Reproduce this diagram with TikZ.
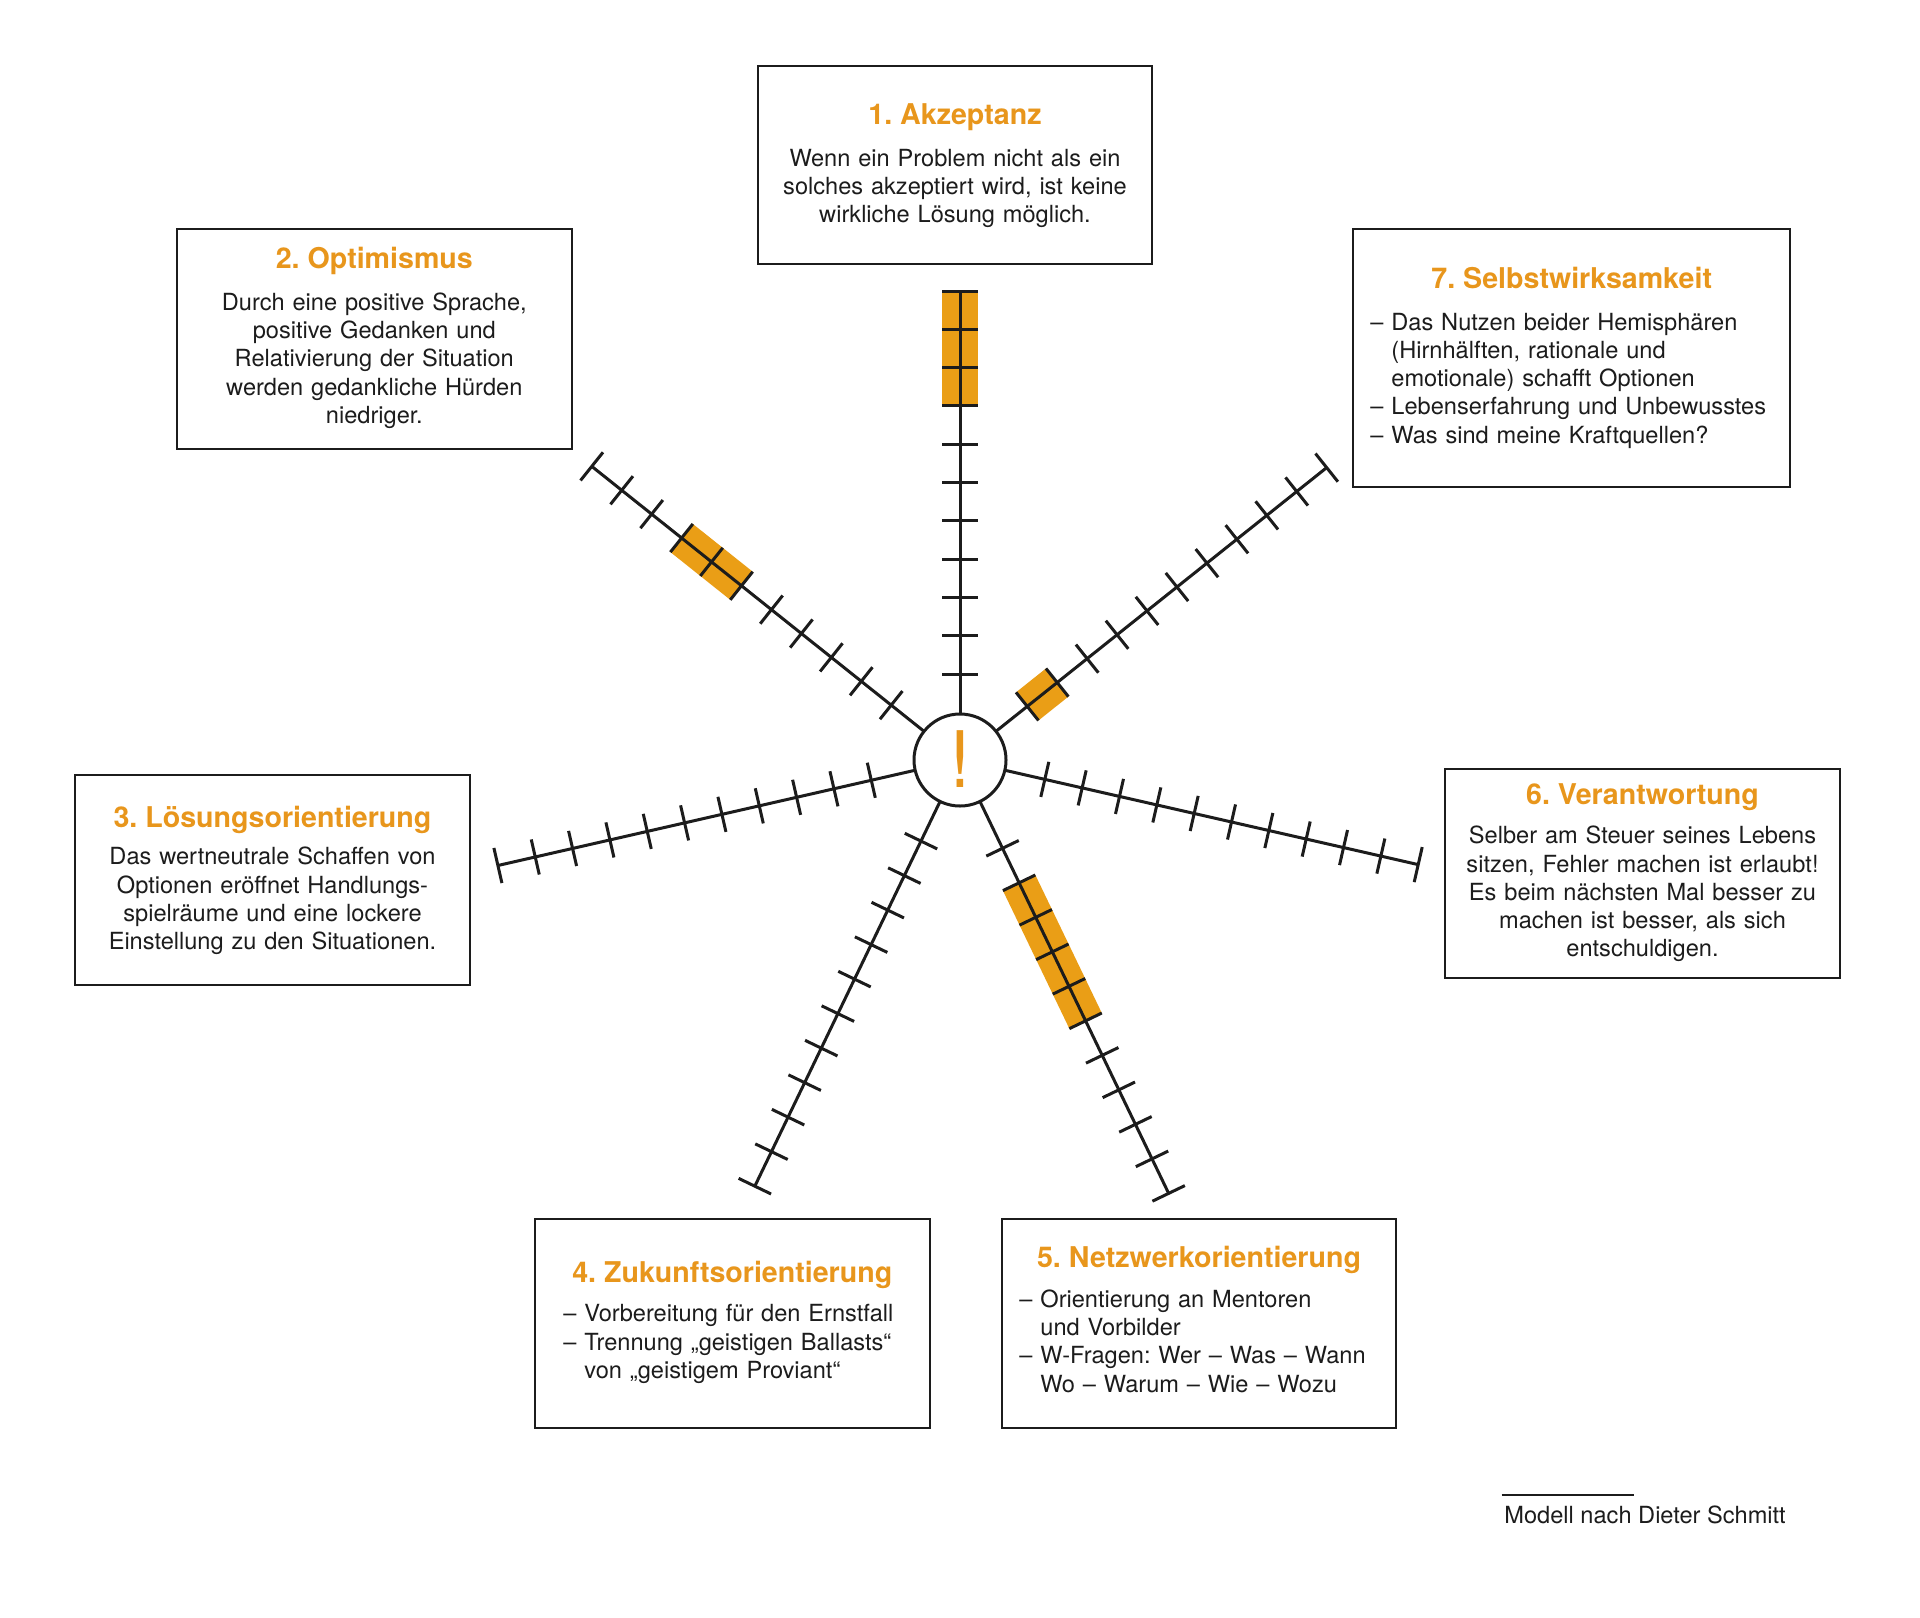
\documentclass[tikz,border=0pt]{standalone}
\usepackage{fontspec}
\setmainfont{TeX Gyre Heros}
\usetikzlibrary{calc}
\frenchspacing
\definecolor{ortext}{RGB}{232,150,28}
\definecolor{orfill}{RGB}{234,158,22}
\definecolor{ink}{RGB}{28,28,28}
\newcommand\drawspoke[2]{%
  \begin{scope}[shift={(hub.center)}, rotate=#1]
    \draw[spk] (46,0) -- (#2,0);
    \foreach \k in {0,...,10} \draw[spk] ({#2-38.3*\k},-18) -- ({#2-38.3*\k},18);
  \end{scope}}
\newcommand\orangeseg[3]{%
  \begin{scope}[shift={(hub.center)}, rotate=#1]
    \fill[orfill] (#2,-18) rectangle (#3,18);
  \end{scope}}
\begin{document}
\frenchspacing
\begin{tikzpicture}[x=0.5pt,y=-0.5pt,
  boxframe/.style={draw=ink, line width=1pt, inner sep=0pt, outer sep=0pt, anchor=north west},
  ttl/.style={anchor=base, inner sep=0pt, text=ortext, font=\fontsize{14.3pt}{17pt}\selectfont\bfseries\frenchspacing},
  bodyc/.style={anchor=base, inner sep=0pt, text=ink, text width=195pt, align=center, font=\fontsize{11.8pt}{14.15pt}\selectfont\frenchspacing},
  bodyl/.style={anchor=base west, inner sep=0pt, text=ink, text width=215pt, align=left, font=\fontsize{11.8pt}{14.15pt}\selectfont\frenchspacing},
  spk/.style={line width=1.5pt, draw=ink},
]
\fill[white] (0,0) rectangle (1920,1617);
\useasboundingbox (0,0) rectangle (1920,1617);

% hub
\node[circle, draw=ink, line width=1.5pt, minimum size=46pt, inner sep=0pt] (hub) at (960,760) {};
\node[anchor=base, text=ortext, font=\fontsize{39pt}{39pt}\selectfont, inner sep=0pt] (bang) at (960,787) {!};

% orange segments (behind spokes)
\orangeseg{90}{354.1}{469}
\orangeseg{141.43}{279.5}{356.1}
\orangeseg{38.57}{86}{124.3}
\orangeseg{-64.29}{136.3}{289.5}

% spokes
\drawspoke{90}{469}
\drawspoke{141.43}{471}
\drawspoke{192.86}{474}
\drawspoke{244.29}{473}
\drawspoke{295.71}{481}
\drawspoke{347.14}{470}
\drawspoke{38.57}{469}

% box 1
\node[boxframe, minimum width=197.25pt, minimum height=98.75pt] (b1) at (757.5,66) {};
\node[ttl] (t1) at (955,124) {1. Akzeptanz};
\node[bodyc] (d1) at (955,166) {Wenn ein Problem nicht als ein\\solches akzeptiert wird, ist keine\\wirkliche Lösung möglich.};

% box 2
\node[boxframe, minimum width=197.25pt, minimum height=110pt] (b2) at (177,229) {};
\node[ttl] (t2) at (374.3,268.7) {2. Optimismus};
\node[bodyc] (d2) at (374.3,310.3) {Durch eine positive Sprache,\\positive Gedanken und\\Relativierung der Situation\\werden gedankliche Hürden\\niedriger.};

% box 3
\node[boxframe, minimum width=197.5pt, minimum height=105pt] (b3) at (75,775) {};
\node[ttl] (t3) at (272.5,827.3) {3. Lösungsorientierung};
\node[bodyc] (d3) at (272.5,864.7) {Das wertneutrale Schaffen von\\Optionen eröffnet Handlungs-\\spielräume und eine lockere\\Einstellung zu den Situationen.};

% box 4
\node[boxframe, minimum width=197.25pt, minimum height=104.75pt] (b4) at (535,1218.5) {};
\node[ttl] (t4) at (732.3,1282.7) {4. Zukunftsorientierung};
\node[bodyl] (d4) at (563,1321.7) {– Vorbereitung für den Ernstfall\\– Trennung „geistigen Ballasts“\\\phantom{– }von „geistigem Proviant“};

% box 5
\node[boxframe, minimum width=197.25pt, minimum height=104.75pt] (b5) at (1001.5,1218.5) {};
\node[ttl] (t5) at (1199,1267.3) {5. Netzwerkorientierung};
\node[bodyl] (d5) at (1019,1307.3) {– Orientierung an Mentoren\\\phantom{– }und Vorbilder\\– W-Fragen: Wer – Was – Wann\\\phantom{– }Wo – Warum – Wie – Wozu};

% box 6
\node[boxframe, minimum width=197.5pt, minimum height=104.65pt] (b6) at (1445,768.7) {};
\node[ttl] (t6) at (1642.5,804.7) {6. Verantwortung};
\node[bodyc] (d6) at (1642.5,843.7) {Selber am Steuer seines Lebens\\sitzen, Fehler machen ist erlaubt!\\Es beim nächsten Mal besser zu\\machen ist besser, als sich\\entschuldigen.};

% box 7
\node[boxframe, minimum width=218.35pt, minimum height=128.7pt] (b7) at (1353.3,229.3) {};
\node[ttl] (t7) at (1571.7,288.3) {7. Selbstwirksamkeit};
\node[bodyl] (d7) at (1370,330) {– Das Nutzen beider Hemisphären\\\phantom{– }(Hirnhälften, rationale und\\\phantom{– }emotionale) schafft Optionen\\– Lebenserfahrung und Unbewusstes\\– Was sind meine Kraftquellen?};

% footer
\coordinate (fa) at (1501.7,1495.3);
\coordinate (fb) at (1634,1495.3);
\draw[ink, line width=1pt] (fa) -- (fb);
\node[anchor=base west, inner sep=0pt, text=ink, font=\fontsize{11.8pt}{14.15pt}\selectfont] (src) at (1504,1523.3) {Modell nach Dieter Schmitt};
\end{tikzpicture}
\end{document}
